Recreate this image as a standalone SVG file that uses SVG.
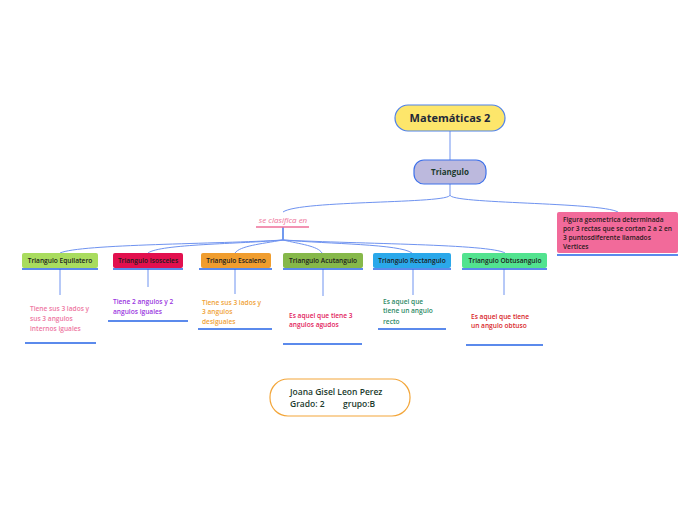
<svg xmlns="http://www.w3.org/2000/svg" width="696" height="520" viewBox="0 0 696 520">
<style>
text{font-family:"Open Sans","Noto Sans","Liberation Sans",sans-serif;}
.c{fill:none;stroke:#6f93f0;stroke-width:1;}
.u{stroke:#2563e6;stroke-width:1.6;}
.lbl{font-size:6.6px;font-weight:600;fill:#1c1c1c;text-anchor:middle;}
.d{font-size:6.6px;font-weight:600;}
</style>
<rect width="696" height="520" fill="#ffffff"/>
<g id="connectors">
<path class="c" d="M450,131 L450,160"/>
<path class="c" d="M450,184 L450,195 C450,204 300,200 283,212"/>
<path class="c" d="M450,195 C450,204 600,202 618,212"/>
<path class="c" d="M283,227 L283,240" style="stroke:#2563e6;stroke-width:1.3"/>
<path class="c" d="M283,240 C220,244 80,244 60,253"/>
<path class="c" d="M283,240 C240,244 160,244 148,253"/>
<path class="c" d="M283,240 C260,244 240,246 235,253"/>
<path class="c" d="M283,240 C300,244 318,246 322,253"/>
<path class="c" d="M283,240 C330,244 400,244 412,253"/>
<path class="c" d="M283,240 C360,244 490,244 505,253"/>
<path class="c" d="M60,269 L60,295"/>
<path class="c" d="M148,269 L148,287"/>
<path class="c" d="M235,269 L235,294"/>
<path class="c" d="M323,269 L323,296"/>
<path class="c" d="M413,269 L413,295"/>
<path class="c" d="M504,269 L504,295"/>
</g>
<g id="root">
<rect x="395" y="105" width="110" height="26" rx="13" fill="#fde66b" stroke="#4f82ea" stroke-width="1.2"/>
<text x="450" y="122" font-size="11" font-weight="700" fill="#1e2838" text-anchor="middle">Matemáticas 2</text>
</g>
<g id="triangulo">
<rect x="414" y="160" width="72" height="24" rx="10" fill="#bcb9dd" stroke="#3f72ea" stroke-width="1.2"/>
<text x="450" y="175" font-size="8" font-weight="700" fill="#1c3b2e" text-anchor="middle">Triangulo</text>
</g>
<g id="clasifica">
<text x="283" y="223" font-size="8" font-style="italic" fill="#ee6f98" text-anchor="middle">se clasifica en</text>
<line x1="256" y1="227" x2="309" y2="227" stroke="#ee6f98" stroke-width="1.5"/>
</g>
<g id="definicion">
<rect x="557" y="212" width="121" height="41" rx="2" fill="#f26a9a"/>
<line class="u" x1="557" y1="255" x2="678" y2="255"/>
<text class="d" fill="#2a1a20"><tspan x="563" y="222">Figura geometrica determinada</tspan><tspan x="563" y="231">por 3 rectas que se cortan 2 a 2 en</tspan><tspan x="563" y="240">3 puntosdiferente llamados</tspan><tspan x="563" y="249">Vertices</tspan></text>
</g>
<g id="equilatero">
<rect x="22" y="253" width="76" height="15" rx="2" fill="#a9dc5e"/>
<line class="u" x1="22" y1="269" x2="98" y2="269"/>
<text class="lbl" x="60" y="263">Triangulo Equilatero</text>
<text class="d" fill="#ee78a2"><tspan x="30" y="311">Tiene sus 3 lados y</tspan><tspan x="30" y="321">sus 3 angulos</tspan><tspan x="30" y="331">internos iguales</tspan></text>
<line class="u" x1="25" y1="343" x2="96" y2="343"/>
</g>
<g id="isosceles">
<rect x="113" y="253" width="70" height="15" rx="2" fill="#e2104e"/>
<line class="u" x1="113" y1="269" x2="183" y2="269"/>
<text class="lbl" x="148" y="263">Triangulo Isosceles</text>
<text class="d" fill="#9a36e0"><tspan x="113" y="304">Tiene 2 angulos y 2</tspan><tspan x="113" y="314">angulos iguales</tspan></text>
<line class="u" x1="108" y1="321" x2="188" y2="321"/>
</g>
<g id="escaleno">
<rect x="201" y="253" width="70" height="15" rx="2" fill="#f09d2e"/>
<line class="u" x1="199" y1="269" x2="272" y2="269"/>
<text class="lbl" x="236" y="263">Triangulo Escaleno</text>
<text class="d" fill="#f0a236"><tspan x="202" y="305">Tiene sus 3 lados y</tspan><tspan x="202" y="314">3 angulos</tspan><tspan x="202" y="324">desiguales</tspan></text>
<line class="u" x1="198" y1="329" x2="272" y2="329"/>
</g>
<g id="acutangulo">
<rect x="283" y="253" width="80" height="15" rx="2" fill="#86b84a"/>
<line class="u" x1="283" y1="269" x2="363" y2="269"/>
<text class="lbl" x="323" y="263">Triangulo Acutangulo</text>
<text class="d" fill="#e2225c"><tspan x="289" y="318">Es aquel que tiene 3</tspan><tspan x="289" y="327">angulos agudos</tspan></text>
<line class="u" x1="283" y1="344" x2="362" y2="344"/>
</g>
<g id="rectangulo">
<rect x="373" y="253" width="78" height="15" rx="2" fill="#2aa8ea"/>
<line class="u" x1="373" y1="269" x2="451" y2="269"/>
<text class="lbl" x="412" y="263">Triangulo Rectangulo</text>
<text class="d" fill="#2e8a66"><tspan x="383" y="304">Es aquel que</tspan><tspan x="383" y="313">tiene un angulo</tspan><tspan x="383" y="324">recto</tspan></text>
<line class="u" x1="378" y1="329" x2="446" y2="329"/>
</g>
<g id="obtusangulo">
<rect x="462" y="253" width="85" height="15" rx="2" fill="#52e38f"/>
<line class="u" x1="462" y1="269" x2="547" y2="269"/>
<text class="lbl" x="505" y="263">Triangulo Obtusangulo</text>
<text class="d" fill="#d82428"><tspan x="471" y="319">Es aquel que tiene</tspan><tspan x="471" y="328">un angulo obtuso</tspan></text>
<line class="u" x1="466" y1="345" x2="543" y2="345"/>
</g>
<g id="autor">
<rect x="270" y="379" width="140" height="37" rx="18" fill="#ffffff" stroke="#f3a63a" stroke-width="1.2"/>
<text font-size="8.5" font-weight="600" fill="#1c3b2e"><tspan x="290" y="395">Joana Gisel Leon Perez</tspan><tspan x="290" y="407">Grado: 2</tspan><tspan x="343" y="407">grupo:B</tspan></text>
</g>
</svg>
